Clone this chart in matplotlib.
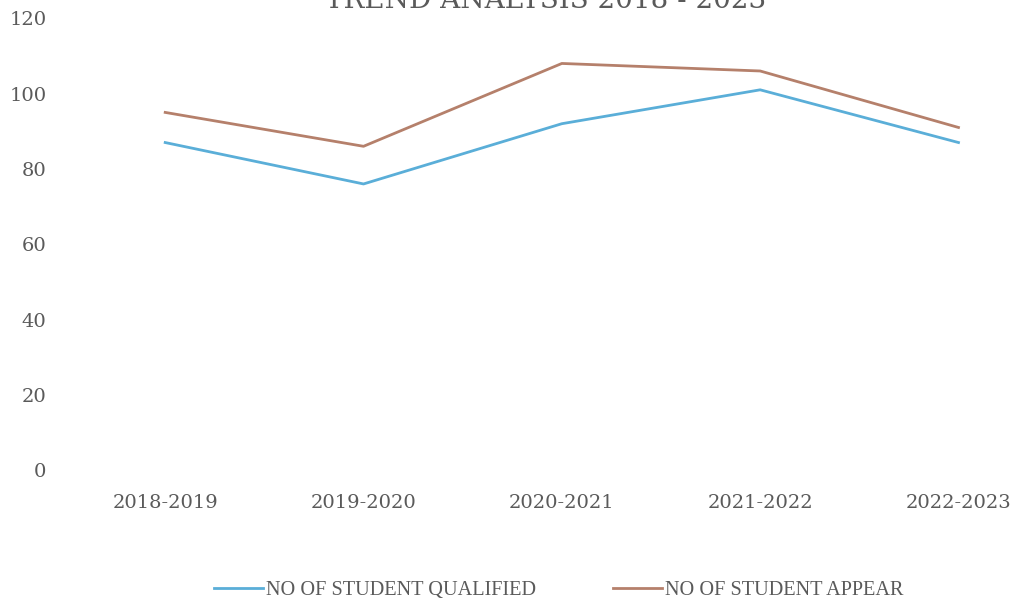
import matplotlib
matplotlib.use("Agg")
from matplotlib import pyplot as plt

years = ["2018-2019", "2019-2020", "2020-2021", "2021-2022", "2022-2023"]
qualified = [87, 76, 92, 101, 87]
appear = [95, 86, 108, 106, 91]

plt.rcParams['font.family'] = ['DejaVu Serif', 'Liberation Serif']
gris = '#5a5a5a'

fig = plt.figure(figsize=(10.16, 6.09), dpi=100)
ax = fig.add_axes([0.065, 0.228, 0.935, 0.742])

x = list(range(len(years)))
ax.plot(x, qualified, color='#5aaed8', linewidth=2.0, label='NO OF STUDENT QUALIFIED')
ax.plot(x, appear, color='#b5806b', linewidth=2.0, label='NO OF STUDENT APPEAR')

ax.set_xlim(-0.5, 4.29)
ax.set_ylim(0, 120)
ax.set_yticks(range(0, 121, 20))
ax.set_xticks(x)
ax.set_xticklabels(years)
ax.tick_params(length=0, labelsize=14, colors=gris)
ax.tick_params(axis='x', pad=17)
ax.tick_params(axis='y', pad=14)
for s in ax.spines.values():
    s.set_visible(False)

# titulo cortado arriba, como en la imagen original
fig.text(0.537, 1 - 8 / 609, "TREND ANALYSIS 2018 - 2023", ha='center', va='baseline',
         fontsize=20, color=gris)

leg = fig.legend(loc='center', bbox_to_anchor=(0.55, 0.031), ncol=2, frameon=False,
                 prop={'family': 'Liberation Serif', 'size': 14.6}, labelcolor=gris,
                 handlelength=2.4, handletextpad=0.15, columnspacing=3.8)

fig.savefig('out.png', dpi=100)
